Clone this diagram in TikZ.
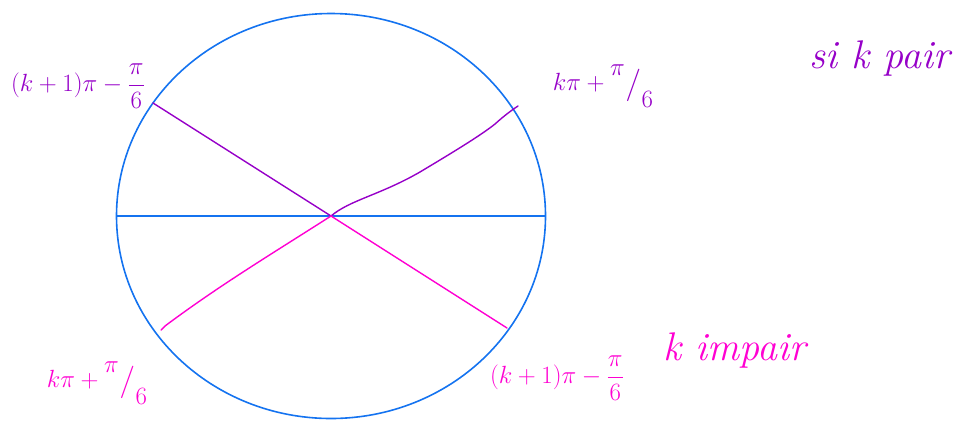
\documentclass[tikz,border=0pt]{standalone}
\usepackage{amsmath}
\definecolor{cblue}{RGB}{20,115,240}
\definecolor{cpurple}{RGB}{150,0,200}
\definecolor{cpink}{RGB}{255,0,210}
\newcommand{\slfrac}[2]{\raisebox{.55em}{$#1$}\kern.02em\raisebox{-.1em}{\scalebox{1.3}{$/$}}\kern.02em\raisebox{-.6em}{$#2$}}
\begin{document}
\begin{tikzpicture}[x=1pt,y=-1pt,
  circ/.style={draw=cblue,line width=1.6pt},
  pline/.style={draw=cpurple,line width=1.4pt,line cap=round},
  kline/.style={draw=cpink,line width=1.4pt,line cap=round},
  plab/.style={text=cpurple,font=\fontsize{28}{32}\selectfont,inner sep=0pt},
  klab/.style={text=cpink,font=\fontsize{28}{32}\selectfont,inner sep=0pt},
  pword/.style={text=cpurple,font=\fontsize{40}{44}\selectfont\itshape,inner sep=0pt},
  kword/.style={text=cpink,font=\fontsize{40}{44}\selectfont\itshape,inner sep=0pt}]
\useasboundingbox (0,0) rectangle (966,424);
\coordinate (O) at (331,216);
\coordinate (W) at (117,216);
\coordinate (E) at (546,216);
\coordinate (A) at (153,103);
\coordinate (B) at (518,106);
\coordinate (C) at (507,328);
\coordinate (D) at (161,330);
\draw[circ] (331,216) ellipse [x radius=214.5, y radius=202.5];
\draw[circ] (W) -- (E);
\draw[pline] (A) -- (O);
\draw[pline] (O) .. controls (350,200) and (380,195) .. (420,172)
  .. controls (450,154) and (480,136) .. (495,124)
  .. controls (505,115) and (512,110) .. (B);
\draw[kline] (O) .. controls (270,255) and (220,285) .. (165,326) -- (D);
\draw[kline] (O) -- (C);
\node[plab] (l1) at (78,86) {$(k+1)\pi-\dfrac{\pi}{6}$};
\node[plab] (l2) at (603,86) {$k\pi+{}$\slfrac{\pi}{6}};
\node[pword] (l3) at (880,58) {si k pair};
\node[klab] (l4) at (97,383) {$k\pi+{}$\slfrac{\pi}{6}};
\node[klab] (l5) at (557,378) {$(k+1)\pi-\dfrac{\pi}{6}$};
\node[kword] (l6) at (735,350) {k impair};
\end{tikzpicture}
\end{document}
